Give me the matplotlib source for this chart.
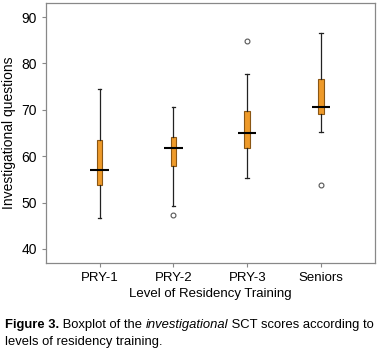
import matplotlib
matplotlib.use('Agg')
import matplotlib.pyplot as plt

plt.rcParams['font.family'] = ['Liberation Sans', 'DejaVu Sans']

groups = ['PRY-1', 'PRY-2', 'PRY-3', 'Seniors']
whislo = [46.6, 49.2, 55.4, 65.2]
q1 = [53.8, 57.8, 61.7, 69.0]
med = [57.0, 61.7, 65.0, 70.6]
q3 = [63.4, 64.2, 69.8, 76.7]
whishi = [74.6, 70.7, 77.8, 86.5]
fliers = [[], [47.4], [84.9], [53.9]]

stats = []
for i, g in enumerate(groups):
    stats.append({'label': g, 'whislo': whislo[i], 'q1': q1[i], 'med': med[i],
                  'q3': q3[i], 'whishi': whishi[i], 'fliers': fliers[i]})

fig = plt.figure(figsize=(3.78, 3.51), dpi=100)
ax = fig.add_axes([0.121, 0.251, 0.871, 0.740])

pos = [1, 2, 3, 4]
ax.bxp(stats, positions=pos, widths=0.075, patch_artist=True,
       boxprops=dict(facecolor='#ee9a2a', edgecolor='#8a5614', linewidth=0.8),
       whiskerprops=dict(color='#222222', linewidth=0.9),
       capprops=dict(color='#222222', linewidth=0.9),
       capwidths=0.05,
       medianprops=dict(linewidth=0),
       flierprops=dict(marker='o', markersize=3.5, markerfacecolor='white',
                       markeredgecolor='#555555', markeredgewidth=0.8))
ax.hlines(med, [p - 0.125 for p in pos], [p + 0.125 for p in pos],
          colors='black', linewidth=1.5, zorder=5)

ax.set_xlim(0.27, 4.73)
ax.set_ylim(37, 93)
ax.set_yticks([40, 50, 60, 70, 80, 90])
ax.set_xticks(pos)
ax.set_xticklabels(groups)
for s in ax.spines.values():
    s.set_color('#888888')
    s.set_linewidth(0.9)
ax.tick_params(colors='#888888', labelcolor='black', labelsize=9.5, length=3)
ax.tick_params(axis='y', labelsize=10)
ax.set_ylabel('Investigational questions', fontsize=10, labelpad=4)
ax.set_xlabel('Level of Residency Training', fontsize=9.5, labelpad=3)

cap = 9.4
t1 = fig.text(0.013, 0.066, 'Figure 3.', fontsize=cap, fontweight='bold')
t2 = ax.annotate(' Boxplot of the ', xy=(1, 0), xycoords=t1, fontsize=cap, va='bottom')
t3 = ax.annotate('investigational', xy=(1, 0), xycoords=t2, fontsize=cap,
                 style='italic', va='bottom')
ax.annotate(' SCT scores according to', xy=(1, 0), xycoords=t3, fontsize=cap, va='bottom')
fig.text(0.013, 0.016, 'levels of residency training.', fontsize=cap)

fig.savefig('out.png', dpi=100)
